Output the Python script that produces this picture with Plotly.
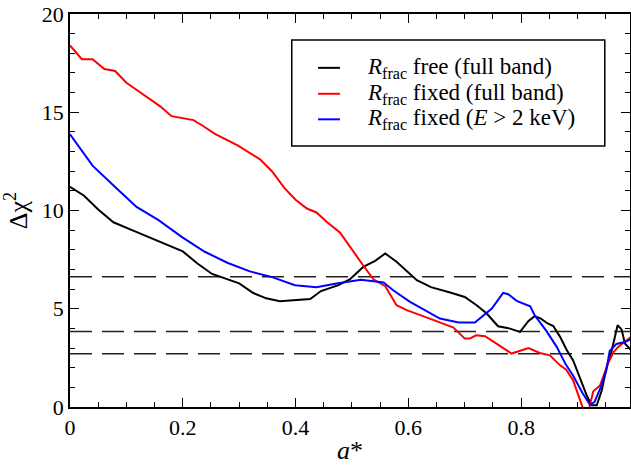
import plotly.graph_objects as go

# ---- data ----
black_x = [0, 0.025, 0.05, 0.077, 0.11, 0.157, 0.200, 0.226, 0.252, 0.30, 0.325, 0.348, 0.372, 0.426,
           0.445, 0.476, 0.496, 0.52, 0.541, 0.559, 0.579, 0.615, 0.640, 0.674, 0.70, 0.721, 0.739,
           0.759, 0.78, 0.798, 0.813, 0.824, 0.835, 0.847, 0.857, 0.869, 0.881, 0.892, 0.904, 0.916,
           0.925, 0.934, 0.943, 0.951, 0.960, 0.971, 0.978, 0.984, 0.995]
black_y = [11.2, 10.75, 10.05, 9.4, 9.0, 8.45, 7.92, 7.3, 6.77, 6.29, 5.8, 5.53, 5.38, 5.49,
           5.9, 6.2, 6.49, 7.13, 7.44, 7.81, 7.39, 6.45, 6.1, 5.83, 5.6, 5.18, 4.76,
           4.11, 3.99, 3.82, 4.38, 4.62, 4.5, 4.25, 4.12, 3.57, 2.89, 2.38, 1.53, 0.6,
           0.09, 0.09, 0.85, 1.95, 2.8, 4.16, 3.95, 3.23, 2.89]

red_x = [0, 0.021, 0.040, 0.061, 0.080, 0.10, 0.121, 0.16, 0.18, 0.219, 0.236, 0.257, 0.298, 0.337,
         0.358, 0.38, 0.40, 0.42, 0.437, 0.455, 0.479, 0.496, 0.52, 0.538, 0.559, 0.579, 0.597,
         0.638, 0.68, 0.70, 0.709, 0.72, 0.736, 0.783, 0.813, 0.833, 0.851, 0.869, 0.88, 0.892,
         0.907, 0.915, 0.921, 0.928, 0.94, 0.949, 0.955, 0.964, 0.972, 0.995]
red_y = [18.4, 17.7, 17.7, 17.2, 17.1, 16.5, 16.08, 15.3, 14.8, 14.6, 14.3, 13.9, 13.3, 12.6,
         12.0, 11.15, 10.55, 10.1, 9.9, 9.43, 8.87, 8.15, 7.2, 6.5, 6.15, 5.18, 4.93,
         4.5, 4.04, 3.48, 3.48, 3.65, 3.6, 2.72, 3.0, 2.75, 2.63, 2.12, 1.9, 1.36,
         0.05, -0.5, 0.0, 0.8, 1.1, 1.78, 2.29, 2.8, 3.06, 3.57]

blue_x = [0, 0.040, 0.080, 0.118, 0.157, 0.198, 0.239, 0.280, 0.319, 0.357, 0.399, 0.437, 0.475,
          0.516, 0.556, 0.573, 0.603, 0.638, 0.656, 0.689, 0.718, 0.748, 0.768, 0.777, 0.792,
          0.816, 0.824, 0.845, 0.863, 0.879, 0.892, 0.909, 0.922, 0.930, 0.941, 0.951, 0.957,
          0.969, 0.984, 0.995]
blue_y = [13.88, 12.28, 11.2, 10.18, 9.51, 8.66, 7.9, 7.33, 6.9, 6.62, 6.2, 6.09, 6.3,
          6.47, 6.34, 5.94, 5.35, 4.76, 4.5, 4.3, 4.3, 5.01, 5.81, 5.74, 5.4,
          5.13, 4.67, 3.86, 3.06, 2.17, 1.6, 0.7, 0.12, 0.25, 1.0, 1.87, 2.85,
          3.21, 3.31, 3.45]

series_names = ["<i>R</i><sub>frac</sub> free (full band)",
                "<i>R</i><sub>frac</sub> fixed (full band)",
                "<i>R</i><sub>frac</sub> fixed (<i>E</i> > 2 keV)"]
series_colors = ["black", "#ff0000", "#0000ff"]
conf_levels = [6.63, 3.84, 2.71]

x_tickvals = [0, 0.2, 0.4, 0.6, 0.8]
x_ticktext = ["0", "0.2", "0.4", "0.6", "0.8"]
y_tickvals = [0, 5, 10, 15, 20]
y_ticktext = ["0", "5", "10", "15", "20"]

FONT = "Liberation Serif, Times New Roman, Times, serif"

fig = go.Figure()
for xs, ys, name, col in zip([black_x, red_x, blue_x], [black_y, red_y, blue_y],
                             series_names, series_colors):
    fig.add_trace(go.Scatter(x=xs, y=ys, mode="lines", name=name, showlegend=False,
                             line=dict(color=col, width=2)))

for lv in conf_levels:
    fig.add_shape(type="line", xref="paper", yref="y", x0=0, x1=1, y0=lv, y1=lv,
                  line=dict(color="#222222", width=1.5, dash="22px,10px"), layer="below")

# ---- legend drawn as a framed box ----
fig.add_shape(type="rect", xref="paper", yref="paper", x0=0.396, x1=0.955, y0=0.664, y1=0.934,
              line=dict(color="black", width=1.5), fillcolor="white", layer="above")
row_y = [0.863, 0.797, 0.732]
for name, col, ry in zip(series_names, series_colors, row_y):
    fig.add_shape(type="line", xref="paper", yref="paper", x0=0.443, x1=0.482, y0=ry, y1=ry,
                  line=dict(color=col, width=2), layer="above")
    fig.add_annotation(xref="paper", yref="paper", x=0.527, y=ry, text=name, showarrow=False,
                       xanchor="left", yanchor="middle",
                       font=dict(family=FONT, size=23, color="black"))

axis_common = dict(showgrid=False, zeroline=False, showline=True, linecolor="black",
                   linewidth=1.5, mirror="ticks", ticks="inside", tickcolor="black",
                   tickwidth=1.2, tickfont=dict(family=FONT, size=22, color="black"))

fig.update_xaxes(range=[0, 0.993], tickvals=x_tickvals, ticktext=x_ticktext, ticklen=9,
                 minor=dict(dtick=0.05, tick0=0, ticks="inside", ticklen=5, tickcolor="black",
                            tickwidth=1.2),
                 title=dict(text="<i>a</i>*", font=dict(family=FONT, size=26, color="black"),
                            standoff=2),
                 **axis_common)
fig.update_yaxes(range=[0, 20], tickvals=y_tickvals, ticktext=y_ticktext, ticklen=9,
                 minor=dict(dtick=1, tick0=0, ticks="inside", ticklen=5, tickcolor="black",
                            tickwidth=1.2),
                 title=dict(text="Δχ<sup>2</sup>", font=dict(family=FONT, size=26, color="black"),
                            standoff=9),
                 **axis_common)

fig.update_layout(
    width=631, height=466,
    margin=dict(l=70, r=1, t=14, b=59, autoexpand=False),
    paper_bgcolor="white", plot_bgcolor="white",
    font=dict(family=FONT, color="black"),
)

fig.write_html("out.html", config={"displayModeBar": False},
               post_script="document.body.style.margin='0';document.body.style.padding='0';")
